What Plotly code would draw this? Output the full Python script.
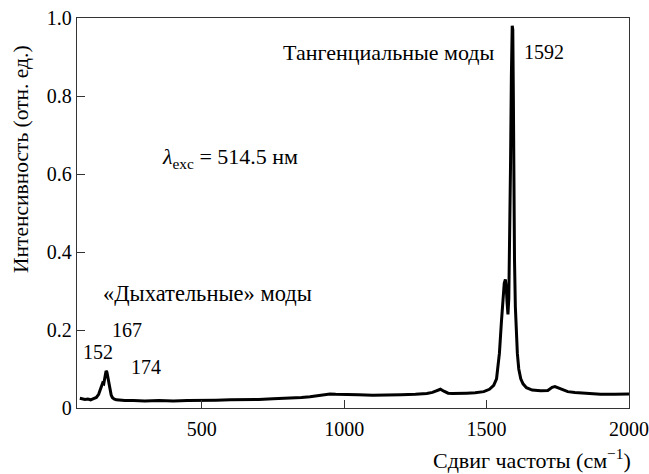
import plotly.graph_objects as go

shift = [72, 80, 90, 100, 110, 120, 130, 138, 144, 148, 152, 156, 160, 164, 167, 170, 174, 178, 182, 186, 192, 200,
         215, 230, 260, 300, 350, 400, 450, 500, 550, 600, 650, 700, 750, 800, 850, 880, 910, 930, 950, 970, 1000,
         1050, 1100, 1150, 1200, 1250, 1290, 1310, 1325, 1338, 1350, 1365, 1380, 1400, 1430, 1460, 1490, 1510,
         1525, 1535, 1545, 1552, 1558, 1562, 1566, 1569, 1572, 1575, 1578, 1581, 1584, 1587, 1590, 1592, 1594,
         1596, 1598, 1601, 1604, 1608, 1613, 1620, 1628, 1640, 1660, 1690, 1715, 1730, 1740, 1750, 1765, 1785,
         1810, 1850, 1900, 1950, 2000]
intensity = [0.025, 0.023, 0.022, 0.023, 0.021, 0.024, 0.027, 0.035, 0.050, 0.058, 0.064, 0.062, 0.080, 0.095,
             0.092, 0.078, 0.060, 0.045, 0.033, 0.027, 0.023, 0.021, 0.020, 0.019, 0.019, 0.018, 0.019, 0.018,
             0.019, 0.019, 0.020, 0.021, 0.021, 0.022, 0.024, 0.025, 0.027, 0.029, 0.032, 0.035, 0.036, 0.035,
             0.034, 0.034, 0.033, 0.033, 0.034, 0.035, 0.037, 0.040, 0.044, 0.048, 0.043, 0.038, 0.037, 0.038,
             0.038, 0.039, 0.042, 0.048, 0.058, 0.075, 0.14, 0.22, 0.28, 0.32, 0.33, 0.31, 0.27, 0.24, 0.28, 0.42,
             0.62, 0.85, 0.98, 0.97, 0.80, 0.55, 0.38, 0.26, 0.19, 0.14, 0.10, 0.075, 0.062, 0.052, 0.046, 0.044,
             0.045, 0.053, 0.055, 0.052, 0.046, 0.042, 0.040, 0.037, 0.035, 0.035, 0.036]

x_ticks = [500, 1000, 1500, 2000]
y_ticks = [0, 0.2, 0.4, 0.6, 0.8, 1.0]
y_ticktext = ["0", "0.2", "0.4", "0.6", "0.8", "1.0"]

FONT = "Liberation Serif, Times New Roman, DejaVu Serif, serif"
W, H = 649, 474
L, R, T, B = 77, 20, 18, 66

fig = go.Figure()
fig.add_trace(go.Scatter(x=shift, y=intensity, mode="lines",
                         line=dict(color="black", width=3), showlegend=False))

axis_common = dict(showline=True, linecolor="#333", linewidth=1.3, mirror=True,
                   ticks="inside", tickcolor="#333", tickwidth=1.3, ticklen=8,
                   showgrid=False, zeroline=False, automargin=False,
                   tickfont=dict(family=FONT, size=20, color="black"))
fig.update_xaxes(range=[62, 2000], tickvals=x_ticks, ticklabelstandoff=3, **axis_common)
fig.update_yaxes(range=[0, 1.0], tickvals=y_ticks, ticktext=y_ticktext, **axis_common)

pw, ph = W - L - R, H - T - B
def px(xp): return (xp - L) / pw
def py(yp): return (H - B - yp) / ph

items = [
    ("Тангенциальные моды", 497, 52, "right", 22),
    ("1592", 522, 52, "left", 20),
    ("<i>λ</i><sub>exc</sub> = 514.5 нм", 160, 158, "left", 22),
    ("«Дыхательные» моды", 101, 293, "left", 22.5),
    ("167", 110, 330, "left", 20),
    ("152", 81, 352, "left", 20),
    ("174", 129, 367, "left", 20),
    ("Сдвиг частоты (см<sup>−1</sup>)", 633, 459, "right", 22),
]
for text, xp, yp, xa, sz in items:
    fig.add_annotation(text=text, x=px(xp), y=py(yp), xref="paper", yref="paper", xanchor=xa,
                       yanchor="middle", showarrow=False,
                       font=dict(family=FONT, size=sz, color="black"))
fig.add_annotation(text="Интенсивность (отн. ед.)", x=px(21), y=py(159), xref="paper", yref="paper",
                   xanchor="center", yanchor="middle", textangle=-90, showarrow=False,
                   font=dict(family=FONT, size=21.5, color="black"))

fig.update_layout(width=W, height=H, margin=dict(l=L, r=R, t=T, b=B, autoexpand=False),
                  paper_bgcolor="white", plot_bgcolor="white")
fig.write_html("out.html")
